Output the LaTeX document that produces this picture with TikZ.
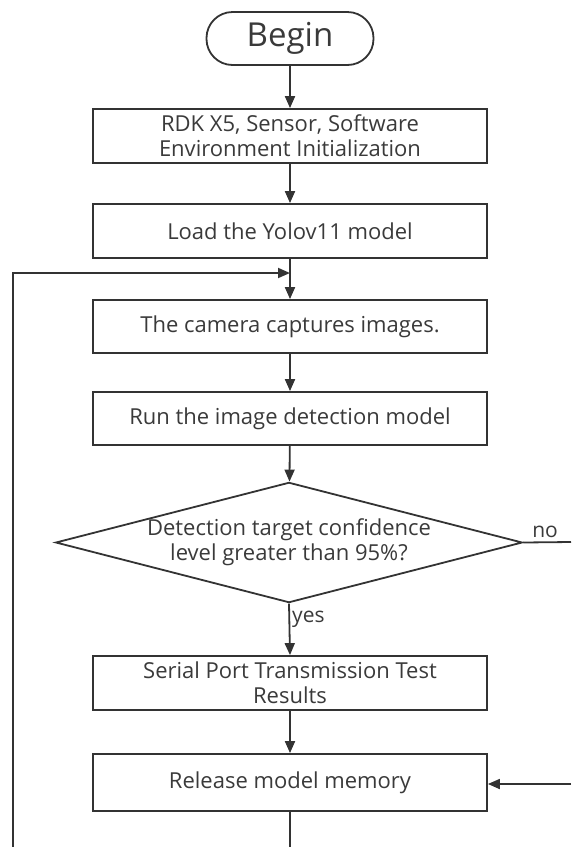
\documentclass[tikz,border=0pt]{standalone}
\usepackage{fontspec}
\setmainfont{Open Sans}
\usetikzlibrary{arrows.meta,shapes.geometric}
\definecolor{ln}{HTML}{333333}
\definecolor{tx}{HTML}{3A3A3A}
\tikzset{
  conn/.style={draw=ln,line width=1.8pt},
  arr/.style={conn,-{Triangle[length=12pt,width=10pt]}},
  procbox/.style={draw=ln,line width=1.8pt,minimum width=394pt,align=center,
    text=tx,font=\fontsize{22}{25}\selectfont,inner sep=0pt},
  lbl/.style={text=tx,font=\fontsize{21}{24}\selectfont,inner sep=0pt}
}
\begin{document}
\begin{tikzpicture}[x=1pt,y=-1pt]
\useasboundingbox (0,0) rectangle (571,847);
\node[draw=ln,line width=1.8pt,rounded corners=26pt,minimum width=167pt,minimum height=53pt,
  text=tx,font=\fontsize{33}{36}\selectfont,inner sep=0pt] (begin) at (290,38.5) {Begin};
\node[procbox,minimum height=54pt] (init) at (290,136) {RDK X5, Sensor, Software\\Environment Initialization};
\node[procbox,minimum height=54pt] (load) at (290,231) {Load the Yolov11 model};
\node[procbox,minimum height=53pt] (cam) at (290,326.5) {The camera captures images.};
\node[procbox,minimum height=53pt] (run) at (290,418.5) {Run the image detection model};
\node[diamond,shape aspect=3.88,draw=ln,line width=1.8pt,minimum width=462pt,minimum height=119pt,inner sep=0pt,
  text=tx,font=\fontsize{22}{25}\selectfont,align=center] (dec) at (289,542.5)
  {Detection target confidence\\level greater than 95\%?};
\node[procbox,minimum height=54pt] (ser) at (290,683) {Serial Port Transmission Test\\Results};
\node[procbox,minimum height=57pt] (rel) at (290,782.5) {Release model memory};

\coordinate (loopB) at (13,847);
\coordinate (loopT) at (13,273);
\coordinate (join) at (290,273);
\coordinate (noR) at (571,542);
\coordinate (noR2) at (571,784);
\coordinate (bot) at (290,847);

\draw[arr] (begin) -- (init);
\draw[arr] (init) -- (load);
\draw[arr] (load) -- (cam);
\draw[arr] (cam) -- (run);
\draw[arr] (run) -- (dec);
\draw[arr] (dec.south) -- (ser.north) node[lbl,pos=0.3,anchor=west,xshift=2pt] {yes};
\draw[arr] (ser) -- (rel);
\draw[conn] (dec.east) -- (noR) node[lbl,midway,above,yshift=4pt,xshift=-2pt] {no};
\draw[arr] (noR2) -- (rel.east |- noR2);
\draw[conn] (rel) -- (bot);
\draw[arr] (loopB) -- (loopT) -- (join);
\end{tikzpicture}
\end{document}
